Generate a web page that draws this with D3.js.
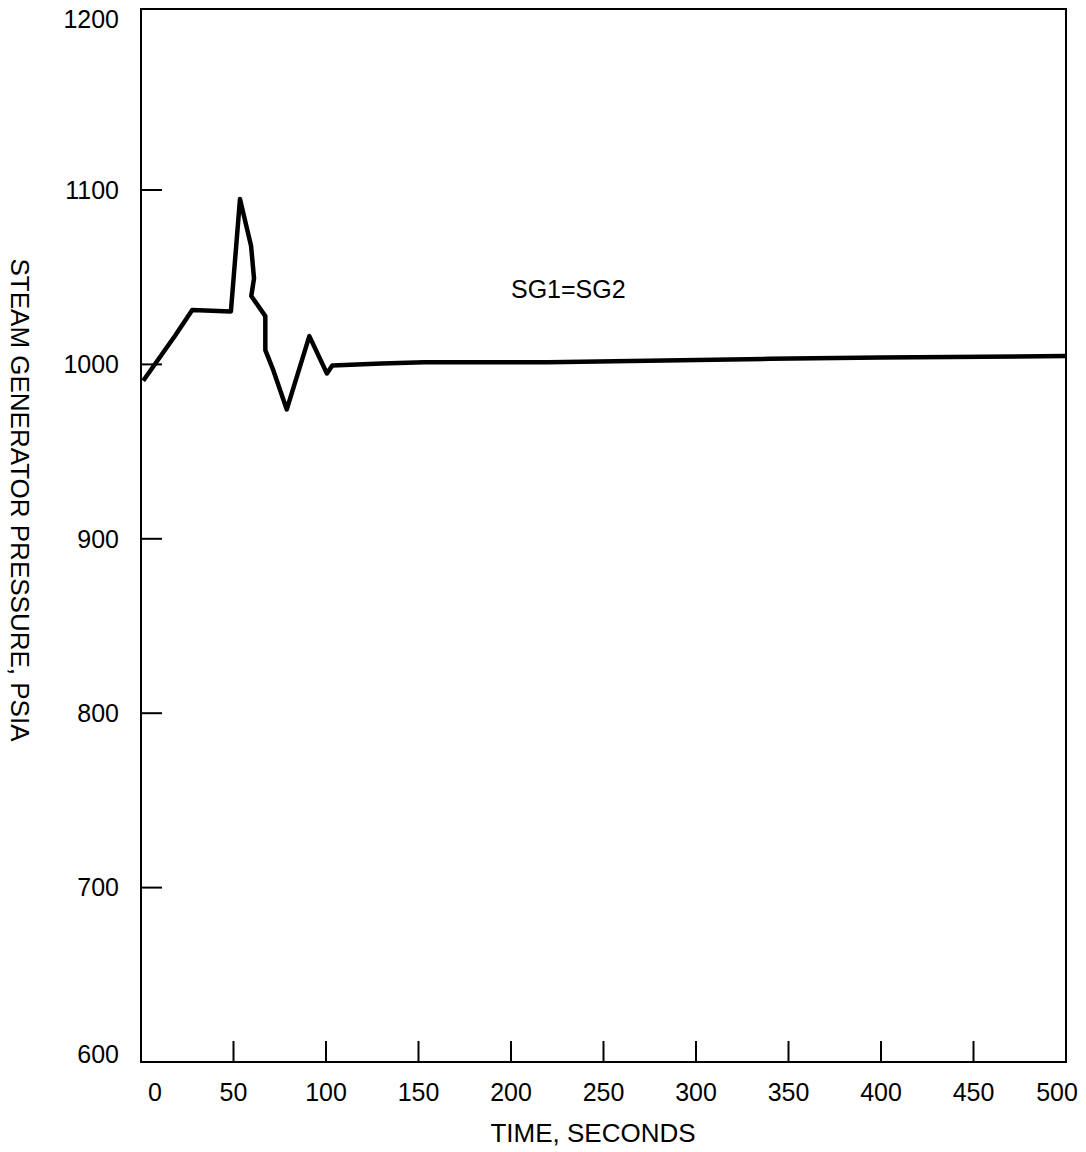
<!DOCTYPE html>
<html>
<head>
<meta charset="utf-8">
<script src="https://cdn.jsdelivr.net/npm/d3@7"></script>
<style>
  html, body { margin: 0; padding: 0; background: #fff; }
  svg { display: block; font-family: "Liberation Sans", Arial, sans-serif; }
</style>
</head>
<body>
<svg id="chart" width="1086" height="1152"></svg>
<script>
// Data
const timeSec = [1.2, 18.4, 27.7, 48.6, 53.5, 59.5, 61.1, 59.6, 67.2, 67.2, 71.5, 78.8, 91, 100.5, 103.4, 130, 153, 220, 340, 400, 500];
const pressurePsia = [990.6, 1016.4, 1031.2, 1030.4, 1094.8, 1067.9, 1049.3, 1039.2, 1027.7, 1008.2, 996.7, 974.2, 1016.2, 994.8, 999.4, 1000.5, 1001.2, 1001.2, 1003.2, 1004, 1004.8];
const xTicks = [0, 50, 100, 150, 200, 250, 300, 350, 400, 450, 500];
const yTicks = [600, 700, 800, 900, 1000, 1100, 1200];
const seriesLabel = "SG1=SG2";
const xTitle = "TIME, SECONDS";
const yTitle = "STEAM GENERATOR PRESSURE, PSIA";

(function () {
const svg = d3.select("#chart");
const mLeft = 141, mRight = 1066, mTop = 9, mBottom = 1062;
const fs = 25, fsTitle = 26;
const x = d3.scaleLinear().domain([0, 500]).range([mLeft, mRight]);
const y = d3.scaleLinear().domain([600, 1200]).range([mBottom, 15.6]);

// frame
svg.append("rect").attr("x", mLeft).attr("y", mTop).attr("width", mRight - mLeft).attr("height", mBottom - mTop)
  .attr("fill", "none").attr("stroke", "#000").attr("stroke-width", 2);

// x ticks (inward)
const tickLen = 21;
svg.append("g").selectAll("line").data(xTicks.slice(1, -1)).join("line")
  .attr("x1", d => x(d)).attr("x2", d => x(d))
  .attr("y1", mBottom).attr("y2", mBottom - tickLen)
  .attr("stroke", "#000").attr("stroke-width", 2);
svg.append("g").selectAll("text").data(xTicks).join("text")
  .attr("x", (d, i) => x(d) + (i === 0 ? 14 : (i === xTicks.length - 1 ? -9 : 0)))
  .attr("y", 1092).attr("dy", "0.35em")
  .attr("text-anchor", "middle").attr("font-size", fs)
  .text(d => d);

// y ticks (inward)
svg.append("g").selectAll("line").data(yTicks.slice(1, -1)).join("line")
  .attr("x1", mLeft).attr("x2", mLeft + tickLen)
  .attr("y1", d => y(d)).attr("y2", d => y(d))
  .attr("stroke", "#000").attr("stroke-width", 2);
svg.append("g").selectAll("text").data(yTicks).join("text")
  .attr("x", 119)
  .attr("y", (d, i) => y(d) + (i === 0 ? -8 : (i === yTicks.length - 1 ? 4 : 0)))
  .attr("dy", "0.35em")
  .attr("text-anchor", "end").attr("font-size", fs)
  .text(d => d);

// axis titles
svg.append("text").attr("x", 593).attr("y", 1133).attr("dy", "0.35em")
  .attr("text-anchor", "middle").attr("font-size", fsTitle).text(xTitle);
svg.append("text").attr("transform", "translate(20,500) rotate(90)")
  .attr("dy", "0.35em").attr("text-anchor", "middle").attr("font-size", fsTitle).text(yTitle);

// series
const pts = timeSec.map((t, i) => [t, pressurePsia[i]]);
svg.append("path").datum(pts)
  .attr("fill", "none").attr("stroke", "#000").attr("stroke-width", 4.5)
  .attr("stroke-linejoin", "round")
  .attr("d", d3.line().x(d => x(d[0])).y(d => y(d[1])));

svg.append("text").attr("x", 511).attr("y", 289).attr("dy", "0.35em")
  .attr("font-size", fs).text(seriesLabel);
})();
</script>
</body>
</html>
